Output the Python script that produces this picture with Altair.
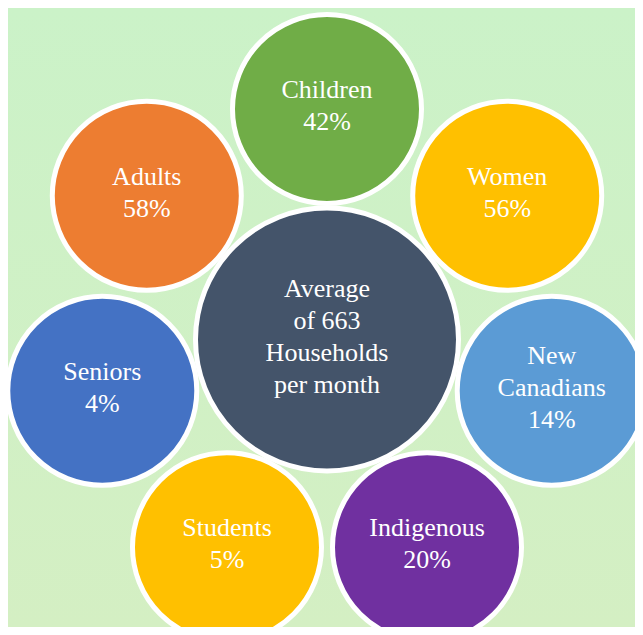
import altair as alt
import pandas as pd

# ---- data ----
groups = ["Children", "Women", "New\nCanadians", "Indigenous", "Students", "Seniors", "Adults"]
shares = [42, 56, 14, 20, 5, 4, 58]
colors = ["#70AD47", "#FFC000", "#5B9BD5", "#7030A0", "#FFC000", "#4472C4", "#ED7D31"]
center_text = "Average\nof 663\nHouseholds\nper month"
center_color = "#44546A"

W, H = 627, 619
R = 230.5  # orbit radius in px
CX, CY = 319, 331.5  # hub centre inside the plot
LH = 32  # text line height

ring = pd.DataFrame({
    "group": groups,
    "share": shares,
    "color": colors,
})
ring["label"] = [f"{g}\n{s}%" for g, s in zip(groups, shares)]

hub = pd.DataFrame({"label": [center_text], "color": [center_color]})

xs = alt.Scale(domain=[-CX / R, (W - CX) / R], nice=False, zero=False)
ys = alt.Scale(domain=[-(H - CY) / R, CY / R], nice=False, zero=False)

# shift multi-line labels up so the whole block is centred
shift = f"(length(split(datum.label, '\\n')) - 1) * {LH / 2} / {R}"

ring_pos = (
    alt.Chart(ring)
    .transform_window(idx="row_number()")
    .transform_calculate(ang="PI/2 - (datum.idx - 1) * 2 * PI / 7")
    .transform_calculate(px="cos(datum.ang)", py="sin(datum.ang)")
    .transform_calculate(ty=f"datum.py + {shift}")
)

hub_pos = (
    alt.Chart(hub)
    .transform_calculate(px="0", py="0")
    .transform_calculate(ty=f"datum.py + {shift}")
)

bg = alt.Chart(hub).mark_rect(
    color=alt.LinearGradient(
        gradient="linear",
        stops=[alt.GradientStop(color="#CBF2C8", offset=0),
               alt.GradientStop(color="#D4EFC3", offset=1)],
        x1=0, x2=0, y1=0, y2=1,
    )
).encode(x=alt.value(0), x2=alt.value(W), y=alt.value(0), y2=alt.value(H))

def circles(base, diam):
    return base.mark_circle(
        size=diam ** 2, opacity=1, stroke="white", strokeWidth=5, clip=True
    ).encode(
        x=alt.X("px:Q", scale=xs, axis=None),
        y=alt.Y("py:Q", scale=ys, axis=None),
        color=alt.Color("color:N", scale=None),
    )

FONT = "Times New Roman, Liberation Serif, serif"

def labels(base):
    return base.mark_text(
        font=FONT, fontSize=26, lineHeight=LH, lineBreak="\n", dy=-3,
        color="white", align="center", baseline="middle",
    ).encode(
        x=alt.X("px:Q", scale=xs, axis=None),
        y=alt.Y("ty:Q", scale=ys, axis=None),
        text="label:N",
    )

chart = (
    alt.layer(bg, circles(ring_pos, 189), circles(hub_pos, 263), labels(ring_pos), labels(hub_pos))
    .properties(width=W, height=H, autosize=alt.AutoSizeParams(type="none"), padding=0,
                background="#CEF1C6")
    .configure_view(stroke=None)
)

chart.save("out.html", embed_options={"renderer": "svg", "actions": False})
